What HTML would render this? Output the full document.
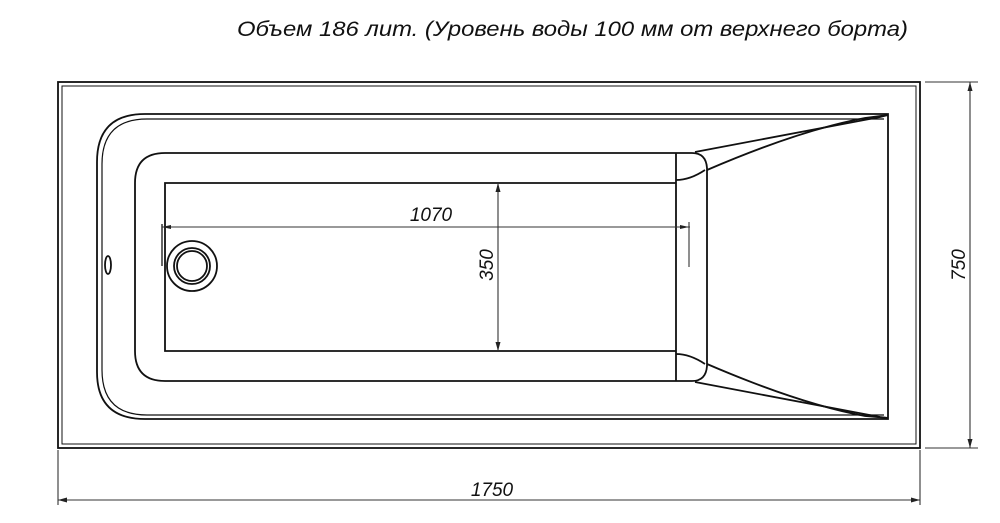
<!DOCTYPE html>
<html><head><meta charset="utf-8"><style>
html,body{margin:0;padding:0;background:#fff;}
svg{display:block;}
text{font-family:"Liberation Sans",sans-serif;font-style:italic;fill:#111;}
</style></head><body>
<svg width="1000" height="523" viewBox="0 0 1000 523" xmlns="http://www.w3.org/2000/svg">
<text x="237" y="36" font-size="21" textLength="671" lengthAdjust="spacingAndGlyphs">Объем 186 лит. (Уровень воды 100 мм от верхнего борта)</text>
<g fill="none" stroke="#111" stroke-width="1.8">
<rect x="58" y="82" width="862" height="366"/>
<rect x="62" y="86" width="854" height="358" stroke-width="1"/>
<path d="M888,114 L145,114 Q97,114 97,162 L97,372 Q97,419 145,419 L888,419 Z"/>
<path d="M884,119 L147,119 Q102,119 102,164 L102,370 Q102,415 147,415 L884,415" stroke-width="1.2"/>
<path d="M676,153 L165,153 Q135,153 135,183 L135,351 Q135,381 165,381 L676,381"/>
<path d="M676,153 L692,153 Q706,153 707,168 L707,366 Q706,381 692,381 L676,381"/>
<line x1="676" y1="153" x2="676" y2="381"/>
<path d="M676,183 L165,183 L165,351 L676,351"/>
<path d="M676,180 Q690,180 705,170"/>
<path d="M676,354 Q690,354 705,364"/>
<path d="M695,152 L880,117 L888,115"/>
<path d="M707,170 Q800,130 865,118 L888,115"/>
<path d="M695,382 L880,417 L888,418"/>
<path d="M707,364 Q800,404 865,416 L888,418"/>
<circle cx="192" cy="266" r="25"/>
<circle cx="192" cy="266" r="18"/>
<circle cx="192" cy="266" r="15"/>
<ellipse cx="108" cy="265" rx="3" ry="9"/>
</g>
<g fill="none" stroke="#333" stroke-width="1.1">
<line x1="162" y1="227" x2="690" y2="227"/>
<line x1="689" y1="222" x2="689" y2="267"/>
<line x1="162" y1="224" x2="162" y2="266" stroke-width="1.5"/>
<line x1="498" y1="183" x2="498" y2="351"/>
<line x1="925" y1="82" x2="978" y2="82"/>
<line x1="925" y1="448" x2="978" y2="448"/>
<line x1="970" y1="82" x2="970" y2="448"/>
<line x1="58" y1="450" x2="58" y2="505"/>
<line x1="920" y1="450" x2="920" y2="505"/>
<line x1="58" y1="500" x2="920" y2="500"/>
</g>
<g fill="#222">
<path d="M498,183 l-2.5,9 h5z"/><path d="M498,351 l-2.5,-9 h5z"/>
<path d="M970,82 l-2.5,9 h5z"/><path d="M970,448 l-2.5,-9 h5z"/>
<path d="M58,500 l9,-2.5 v5z"/><path d="M920,500 l-9,-2.5 v5z"/>
<path d="M162,227 l9,-2 v4z"/><path d="M689,227 l-9,-2 v4z"/>
</g>
<text x="431" y="221" font-size="19" text-anchor="middle">1070</text>
<text transform="translate(493,265) rotate(-90)" font-size="19" text-anchor="middle">350</text>
<text transform="translate(965,265) rotate(-90)" font-size="19" text-anchor="middle">750</text>
<text x="492" y="496" font-size="19" text-anchor="middle">1750</text>
</svg>
</body></html>
